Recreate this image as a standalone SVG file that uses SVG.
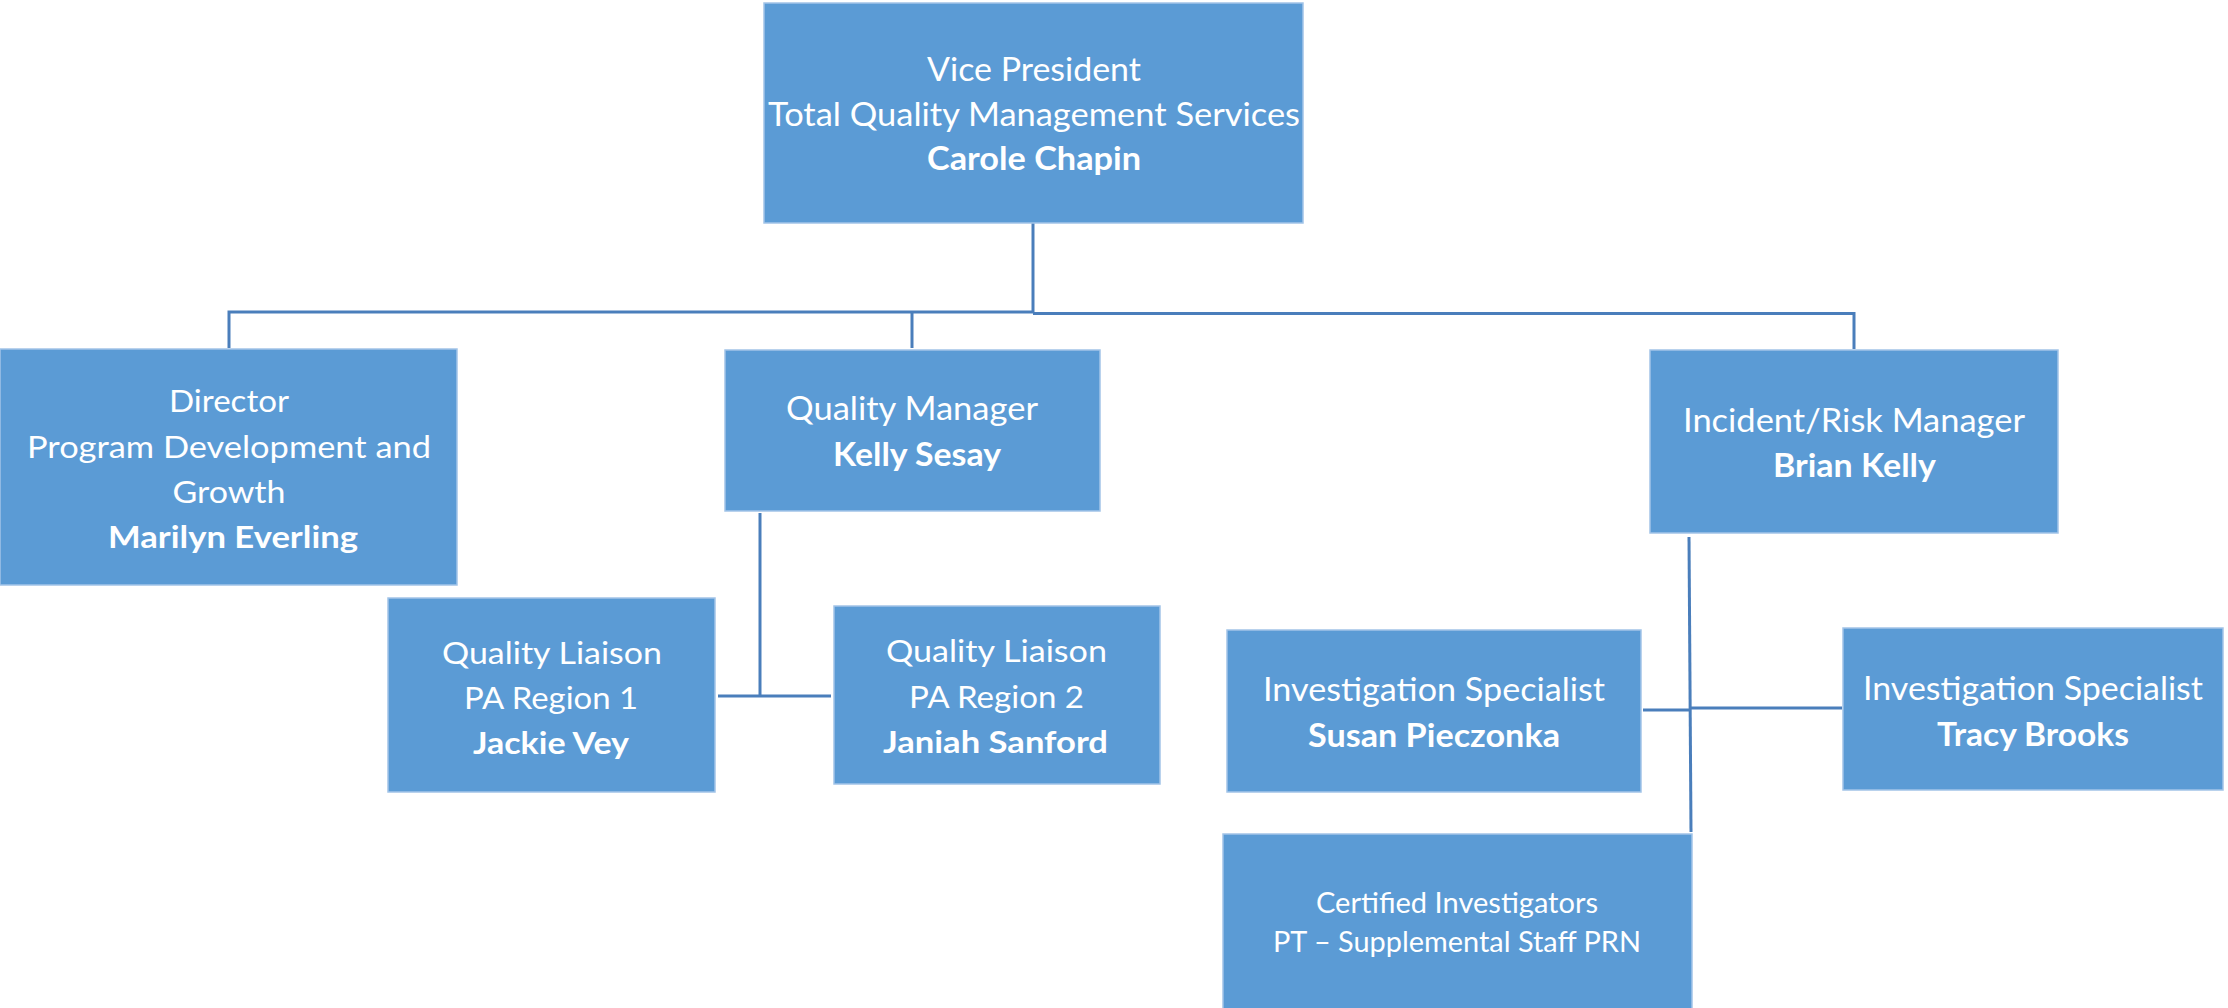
<svg xmlns="http://www.w3.org/2000/svg" width="2228" height="1008" viewBox="0 0 2228 1008">
<style>
.box{fill:#5B9BD5;stroke:#A2C4E8;stroke-width:1.5}
.t{font-family:Lato,"Open Sans","Liberation Sans",sans-serif;fill:#FFFFFF;text-anchor:middle}
.b{font-weight:bold}
.conn{fill:none;stroke:#4A7EBB;stroke-width:3}
</style>
<rect width="2228" height="1008" fill="#FFFFFF"/>
<g id="connectors">
<path class="conn" d="M1033,223 V312"/>
<path class="conn" d="M229,348 V312 H1033"/>
<path class="conn" d="M1033,313.5 H1854 V349"/>
<path class="conn" d="M912,312 V348"/>
<path class="conn" d="M760,513 V696"/>
<path class="conn" d="M718,696 H831"/>
<path class="conn" d="M1689,537 L1691,832"/>
<path class="conn" d="M1643,710 H1690"/>
<path class="conn" d="M1690,708 H1842"/>
</g>
<g id="vp">
<rect class="box" x="764" y="3" width="539" height="220"/>
<text class="t" font-size="33" x="1034" y="81" textLength="214" lengthAdjust="spacingAndGlyphs">Vice President</text>
<text class="t" font-size="33" x="1034" y="126" textLength="532" lengthAdjust="spacingAndGlyphs">Total Quality Management Services</text>
<text class="t b" font-size="33" x="1034" y="170" textLength="214" lengthAdjust="spacingAndGlyphs">Carole Chapin</text>
</g>
<g id="director">
<rect class="box" x="0" y="349" width="457" height="236"/>
<text class="t" font-size="31" x="229" y="412" textLength="120" lengthAdjust="spacingAndGlyphs">Director</text>
<text class="t" font-size="31" x="229" y="458" textLength="404" lengthAdjust="spacingAndGlyphs">Program Development and</text>
<text class="t" font-size="31" x="229" y="503" textLength="113" lengthAdjust="spacingAndGlyphs">Growth</text>
<text class="t b" font-size="31" x="233" y="548" textLength="250" lengthAdjust="spacingAndGlyphs">Marilyn Everling</text>
</g>
<g id="quality-manager">
<rect class="box" x="725" y="350" width="375" height="161"/>
<text class="t" font-size="32" x="912" y="420" textLength="252" lengthAdjust="spacingAndGlyphs">Quality Manager</text>
<text class="t b" font-size="32" x="917" y="466" textLength="168" lengthAdjust="spacingAndGlyphs">Kelly Sesay</text>
</g>
<g id="quality-liaison-1">
<rect class="box" x="388" y="598" width="327" height="194"/>
<text class="t" font-size="30" x="552" y="664" textLength="220" lengthAdjust="spacingAndGlyphs">Quality Liaison</text>
<text class="t" font-size="30" x="551" y="709" textLength="174" lengthAdjust="spacingAndGlyphs">PA Region 1</text>
<text class="t b" font-size="30" x="551" y="754" textLength="156" lengthAdjust="spacingAndGlyphs">Jackie Vey</text>
</g>
<g id="quality-liaison-2">
<rect class="box" x="834" y="606" width="326" height="178"/>
<text class="t" font-size="30" x="996.5" y="662" textLength="221" lengthAdjust="spacingAndGlyphs">Quality Liaison</text>
<text class="t" font-size="30" x="996.5" y="708" textLength="175" lengthAdjust="spacingAndGlyphs">PA Region 2</text>
<text class="t b" font-size="30" x="995.5" y="753" textLength="225" lengthAdjust="spacingAndGlyphs">Janiah Sanford</text>
</g>
<g id="incident-risk-manager">
<rect class="box" x="1650" y="350" width="408" height="183"/>
<text class="t" font-size="32" x="1854" y="432" textLength="342" lengthAdjust="spacingAndGlyphs">Incident/Risk Manager</text>
<text class="t b" font-size="32" x="1854.5" y="477" textLength="163" lengthAdjust="spacingAndGlyphs">Brian Kelly</text>
</g>
<g id="investigation-specialist-1">
<rect class="box" x="1227" y="630" width="414" height="162"/>
<text class="t" font-size="32" x="1434" y="701" textLength="342" lengthAdjust="spacingAndGlyphs">Investigation Specialist</text>
<text class="t b" font-size="32" x="1434" y="747" textLength="252" lengthAdjust="spacingAndGlyphs">Susan Pieczonka</text>
</g>
<g id="investigation-specialist-2">
<rect class="box" x="1843" y="628" width="380" height="162"/>
<text class="t" font-size="32" x="2033" y="700" textLength="340" lengthAdjust="spacingAndGlyphs">Investigation Specialist</text>
<text class="t b" font-size="32" x="2033" y="746" textLength="192" lengthAdjust="spacingAndGlyphs">Tracy Brooks</text>
</g>
<g id="certified-investigators">
<rect class="box" x="1223" y="834" width="469" height="180"/>
<text class="t" font-size="28" x="1457" y="913" textLength="282" lengthAdjust="spacingAndGlyphs">Certified Investigators</text>
<text class="t" font-size="28" x="1457" y="952" textLength="368" lengthAdjust="spacingAndGlyphs">PT – Supplemental Staff PRN</text>
</g>
</svg>
